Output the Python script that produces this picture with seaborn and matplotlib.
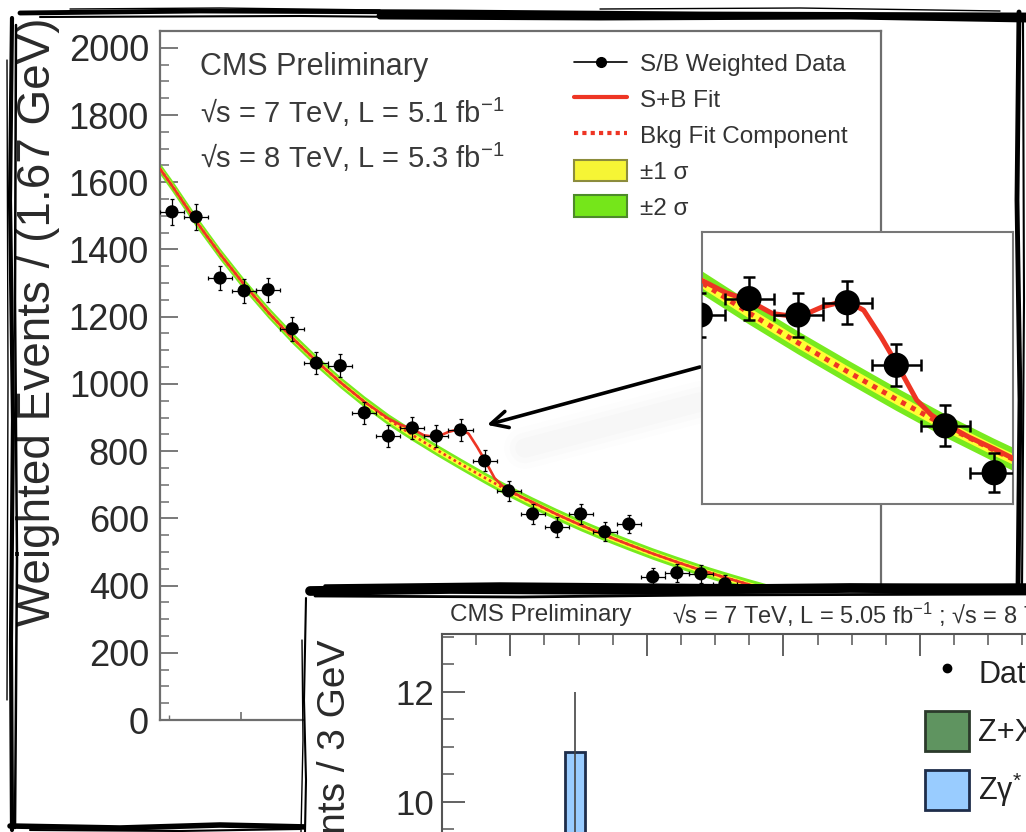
import numpy as np
import pandas as pd
import matplotlib
matplotlib.use("Agg")
import matplotlib.pyplot as plt
from matplotlib.lines import Line2D
from matplotlib.patches import Patch, Rectangle
from matplotlib.ticker import MultipleLocator, FuncFormatter
import seaborn as sns

# ---------------- data: diphoton S/B weighted spectrum ----------------
bin_width = 1.667
mass_range = (104.4, 154.4)
data_mass = [105.23, 106.90, 108.57, 110.23, 111.90, 113.57, 115.24, 116.90,
             118.57, 120.24, 121.90, 123.57, 125.24, 126.91, 128.57, 130.24,
             131.91, 133.57, 135.24, 136.91, 138.57, 140.24, 141.91, 143.58]
data_events = [1512, 1497, 1315, 1277, 1280, 1164, 1062, 1054,
               914, 845, 869, 845, 863, 771, 682, 613,
               574, 613, 560, 583, 426, 438, 435, 405]
data_err = [38, 38, 36, 36, 36, 35, 34, 34, 33, 32, 32, 32,
            32, 31, 30, 29, 29, 29, 28, 28, 27, 27, 27, 26]

# background fit component, read at the bin centres (plus the axis edges)
bkg_mass = [104.40, 105.23, 106.90, 108.57, 110.23, 111.90, 113.57, 115.24,
            116.90, 118.57, 120.24, 121.90, 123.57, 125.24, 126.91, 128.57,
            130.24, 131.91, 133.57, 135.24, 136.91, 138.57, 140.24, 141.91,
            143.58, 145.24, 146.91, 148.58, 150.24, 151.91, 153.58, 154.40]
bkg_fit = [1640, 1590, 1484, 1386, 1296, 1213, 1137, 1068,
           1005, 947, 894, 848, 804, 762, 721, 682,
           646, 612, 580, 550, 522, 495, 470, 446,
           424, 403, 383, 364, 346, 329, 313, 305]
# signal + background fit, read more densely around the peak
sb_mass = [104.40, 105.23, 106.90, 108.57, 110.23, 111.90, 113.57, 115.24,
           116.90, 118.57, 120.24, 121.10, 121.90, 122.70, 123.60, 124.40,
           125.20, 125.80, 126.40, 126.90, 127.60, 128.10, 128.60, 129.40, 130.24,
           131.91, 133.57, 135.24, 136.91, 138.57, 140.24, 141.91, 143.58,
           145.24, 146.91, 148.58, 150.24, 151.91, 153.58, 154.40]
sb_fit = [1640, 1590, 1484, 1386, 1296, 1213, 1137, 1068,
          1005, 947, 897, 878, 866, 847, 842, 857,
          866, 852, 812, 775, 720, 698, 684, 665, 648,
          612, 580, 550, 522, 495, 470, 446, 424,
          403, 383, 364, 346, 329, 313, 305]
sigma1_halfwidth = 8.0
sigma2_halfwidth = 17.0

# ---------------- data: four-lepton panel ----------------
zz_edges = [88, 91]
zz_centers = [89.5]
zz_events = [10.9]
d4l_mass = [89.5]
d4l_events = [9.0]
d4l_err_dn = [2.9]
d4l_err_up = [3.0]

# ---------------- style ----------------
sns.set_style("white")
plt.rcParams["font.family"] = ["Liberation Sans", "DejaVu Sans"]
plt.rcParams["mathtext.fontset"] = "custom"
plt.rcParams["mathtext.rm"] = "Liberation Sans"
plt.rcParams["mathtext.it"] = "Liberation Sans:italic"
plt.rcParams["mathtext.bf"] = "Liberation Sans:bold"

RED = "#ee3524"
GREEN = "#78ea1e"
YELLOW = "#ffff33"
FRAME = "#6e6e6e"
TXT = "#333333"

W, H = 1026, 832
def fx(x):
    return x / W
def fy(y):
    return 1 - y / H

fig = plt.figure(figsize=(W / 100, H / 100), dpi=100)
fig.patch.set_facecolor("white")

df = pd.DataFrame({"mass": data_mass, "events": data_events, "err": data_err})
bkg = pd.DataFrame({"mass": bkg_mass, "fit": bkg_fit})
sb = pd.DataFrame({"mass": sb_mass, "fit": sb_fit})


def draw_fit(ax, lw_line, lw_dot, ms, elw, cap):
    b = bkg["fit"].to_numpy(float)
    ax.fill_between(bkg["mass"], b - sigma2_halfwidth, b + sigma2_halfwidth,
                    color=GREEN, lw=0, zorder=1)
    ax.fill_between(bkg["mass"], b - sigma1_halfwidth, b + sigma1_halfwidth,
                    color=YELLOW, lw=0, zorder=1.1)
    sns.lineplot(data=bkg, x="mass", y="fit", ax=ax, color=RED, lw=lw_dot,
                 linestyle=(0, (1.0, 1.2)), errorbar=None, sort=False, zorder=2)
    sns.lineplot(data=sb, x="mass", y="fit", ax=ax, color=RED, lw=lw_line,
                 errorbar=None, sort=False, zorder=3,
                 solid_joinstyle="round")
    ax.errorbar(df["mass"], df["events"], yerr=df["err"], xerr=bin_width / 2,
                fmt="none", ecolor="black", elinewidth=elw, capsize=cap,
                capthick=elw, zorder=4)
    sns.scatterplot(data=df, x="mass", y="events", ax=ax, color="black",
                    s=ms, edgecolor="none", zorder=5)


# ---------------- main axes ----------------
ax = fig.add_axes([fx(160), fy(720), (881 - 160) / W, (720 - 31) / H])
ax.set_zorder(1)
draw_fit(ax, 1.9, 1.9, 90, 0.9, 1.5)
ax.set_xlim(*mass_range)
ax.set_ylim(0, 2050)
ax.set_xlabel("")
ax.set_ylabel("")
for s in ax.spines.values():
    s.set_color(FRAME)
    s.set_linewidth(1.6)
ax.yaxis.set_major_locator(MultipleLocator(200))
ax.yaxis.set_minor_locator(MultipleLocator(50))
ax.xaxis.set_major_locator(MultipleLocator(10))
ax.xaxis.set_minor_locator(MultipleLocator(5))
ax.tick_params(axis="y", which="major", direction="in", length=13, width=1.3,
               color=FRAME, labelsize=26, pad=8, labelcolor="#2a2a2a", left=True)
ax.tick_params(axis="y", which="minor", direction="in", length=6.5, width=1.1,
               color=FRAME, left=True)
ax.tick_params(axis="x", which="major", direction="in", length=6, width=1.2,
               color=FRAME, labelbottom=False, bottom=True)
ax.tick_params(axis="x", which="minor", direction="in", length=3.5, width=1.0,
               color=FRAME, bottom=True)

handles = [
    Line2D([], [], color="black", lw=1.2, marker="o", markersize=7),
    Line2D([], [], color=RED, lw=3),
    Line2D([], [], color=RED, lw=3, linestyle=(0, (1, 1))),
    Patch(facecolor="#f6f535", edgecolor="#8c8c3c", lw=1.5),
    Patch(facecolor="#75e61a", edgecolor="#4d8a2a", lw=1.5),
]
labels = ["S/B Weighted Data", "S+B Fit", "Bkg Fit Component", "±1 σ", "±2 σ"]
leg = ax.legend(handles, labels, loc="upper left",
                bbox_to_anchor=(fx(574), fy(52)), bbox_transform=fig.transFigure,
                frameon=False, fontsize=17.5, handlelength=2.2, handleheight=1.0,
                handletextpad=0.5, labelspacing=0.48, borderpad=0, borderaxespad=0)
for t in leg.get_texts():
    t.set_color(TXT)

ax.annotate("", xy=(127.08, 878), xycoords="data",
            xytext=(fx(700), fy(367)), textcoords="figure fraction",
            arrowprops=dict(arrowstyle="->", lw=2.6, color="black",
                            mutation_scale=30, shrinkA=0, shrinkB=0),
            zorder=6)

fig.text(fx(200), fy(67), "CMS Preliminary", fontsize=22, color="#3a3a3a", va="center")
fig.text(fx(200), fy(112), "√s = 7 TeV, L = 5.1 fb$^{-1}$", fontsize=21,
         color="#3a3a3a", va="center")
fig.text(fx(200), fy(157), "√s = 8 TeV, L = 5.3 fb$^{-1}$", fontsize=21,
         color="#3a3a3a", va="center")
fig.text(fx(38), fy(322), "Weighted Events / (1.67 GeV)", rotation=90,
         ha="center", va="center", fontsize=33, color="#2a2a2a")

# soft shadow under the arrow
for lw_s, a in [(30, 0.015), (22, 0.02), (14, 0.025)]:
    fig.add_artist(Line2D([fx(525), fx(700)], [fy(448), fy(402)], lw=lw_s,
                          color="gray", alpha=a, solid_capstyle="round", zorder=1.5))

# ---------------- inset ----------------
axi = fig.add_axes([fx(702), fy(504), (1013 - 702) / W, (504 - 232) / H])
axi.set_zorder(2)
draw_fit(axi, 3.6, 3.6, 330, 1.8, 4)
axi.set_xlim(120.30, 130.88)
axi.set_ylim(567, 967)
axi.set_xticks([])
axi.set_yticks([])
axi.set_xlabel("")
axi.set_ylabel("")
for s in axi.spines.values():
    s.set_color("#777777")
    s.set_linewidth(1.5)

# ---------------- second (four-lepton) panel ----------------
fig.add_artist(Rectangle((fx(305), 0), 1 - fx(305), fy(592),
                         transform=fig.transFigure, facecolor="white",
                         edgecolor="none", zorder=4))

ax2 = fig.add_axes([fx(442), fy(634) - 718 / H, 751 / W, 718 / H])
ax2.set_zorder(5)
sns.histplot(x=zz_centers, weights=zz_events, bins=zz_edges, ax=ax2,
             color="#99ccff", edgecolor="#1e2d4a", linewidth=2, alpha=1)
ax2.errorbar(d4l_mass, d4l_events, yerr=[d4l_err_dn, d4l_err_up], fmt="o",
             color="black", ms=6, ecolor="#444444", elinewidth=1.2, capsize=0, zorder=5)
ax2.set_xlim(70, 180)
ax2.set_ylim(0, 13.05)
ax2.set_xlabel("")
ax2.set_ylabel("")
for s in ax2.spines.values():
    s.set_color("#555555")
    s.set_linewidth(1.5)
ax2.xaxis.set_major_locator(MultipleLocator(20))
ax2.xaxis.set_minor_locator(MultipleLocator(5))
ax2.yaxis.set_major_locator(MultipleLocator(2))
ax2.yaxis.set_minor_locator(MultipleLocator(0.5))
# only the labels that fall inside the cropped view are drawn
ax2.yaxis.set_major_formatter(FuncFormatter(lambda v, p: f"{v:.0f}" if v >= 9.5 else ""))
ax2.tick_params(axis="x", which="both", top=True, bottom=False, labelbottom=False,
                labeltop=False, direction="in", color="#555555")
ax2.tick_params(axis="x", which="major", length=16, width=1.3)
ax2.tick_params(axis="x", which="minor", length=8, width=1.1)
ax2.tick_params(axis="y", which="both", left=True, direction="in", color="#555555")
ax2.tick_params(axis="y", which="major", length=16.5, width=1.3, labelsize=25,
                pad=6, labelcolor="#2a2a2a")
ax2.tick_params(axis="y", which="minor", length=8.5, width=1.1)

h2 = [Line2D([], [], ls="none", marker="o", color="black", markersize=6),
      Patch(facecolor="#5f9460", edgecolor="#2b3a2b", lw=2),
      Patch(facecolor="#99ccff", edgecolor="#1e2d4a", lw=2)]
l2 = ["Data", "Z+X", "Zγ$^{*}$"]
leg2 = ax2.legend(h2, l2, loc="upper left", bbox_to_anchor=(fx(925), fy(653)),
                  bbox_transform=fig.transFigure, frameon=False, fontsize=22,
                  handlelength=1.45, handleheight=1.64, handletextpad=0.3,
                  labelspacing=0.6, borderpad=0, borderaxespad=0)
for t in leg2.get_texts():
    t.set_color("#222222")

fig.text(fx(450), fy(615), "CMS Preliminary", fontsize=17.5, color=TXT,
         va="center", zorder=6)
fig.text(fx(672), fy(615), "√s = 7 TeV, L = 5.05 fb$^{-1}$ ; √s = 8 TeV, L = 5.26 fb$^{-1}$",
         fontsize=17, color=TXT, va="center", zorder=6)
fig.text(fx(335), fy(640), "Events / 3 GeV", rotation=90, ha="center", va="top",
         fontsize=28, color="#2a2a2a", zorder=6)

# ---------------- sketchy photo borders ----------------
main_strokes = [
    ([(20, 13), (200, 11), (450, 12), (700, 14), (1026, 15)], 3.5),
    ([(380, 16), (600, 17), (850, 16), (1026, 19)], 5.0),
    ([(40, 17), (300, 16), (520, 18)], 1.5),
    ([(70, 9), (220, 8), (380, 10)], 1.0),
    ([(600, 9), (800, 8), (1000, 11)], 1.0),
    ([(12, 18), (10, 200), (13, 420), (11, 640), (12, 830)], 3.0),
    ([(16, 25), (15, 300), (17, 560), (15, 828)], 1.8),
    ([(7, 60), (8, 380), (7, 700)], 1.0),
    ([(1019, 12), (1017, 200), (1020, 400), (1018, 590)], 3.5),
    ([(1023, 20), (1024, 300), (1022, 590)], 1.5),
    ([(10, 826), (120, 828), (220, 825), (308, 827)], 4.0),
    ([(30, 830), (180, 831), (300, 829)], 1.5),
]
panel_strokes = [
    ([(310, 591), (450, 589), (650, 590), (850, 588), (1026, 589)], 7.0),
    ([(325, 586), (500, 584), (760, 586), (1026, 585)], 2.5),
    ([(315, 596), (520, 597), (700, 595), (1026, 594)], 2.0),
    ([(306, 598), (304, 700), (306, 780), (305, 832)], 1.5),
    ([(302, 640), (303, 740), (301, 832)], 1.0),
]
for pts, lw_b in main_strokes:
    xs, ys = zip(*pts)
    fig.add_artist(Line2D([fx(v) for v in xs], [fy(v) for v in ys], lw=lw_b,
                          color="black", solid_capstyle="round", zorder=3.5))
for pts, lw_b in panel_strokes:
    xs, ys = zip(*pts)
    fig.add_artist(Line2D([fx(v) for v in xs], [fy(v) for v in ys], lw=lw_b,
                          color="black", solid_capstyle="round", zorder=7))

fig.savefig("out.png", dpi=100, facecolor="white")
